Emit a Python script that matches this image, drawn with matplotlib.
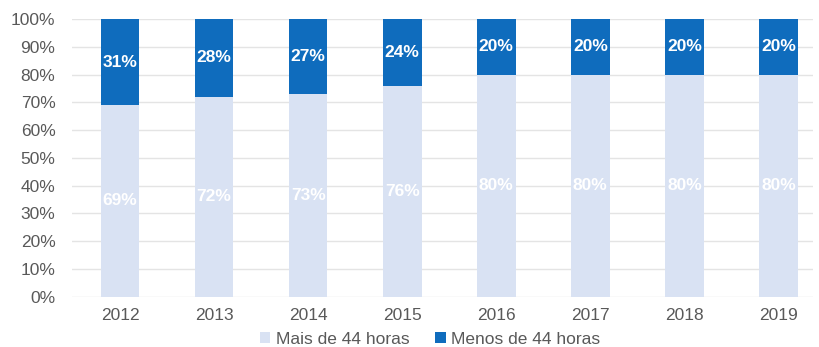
import numpy as np
import matplotlib.pyplot as plt

plt.rcParams['font.family'] = ['Liberation Sans', 'DejaVu Sans']

years = ["2012", "2013", "2014", "2015", "2016", "2017", "2018", "2019"]
mais_44 = [69, 72, 73, 76, 80, 80, 80, 80]
menos_44 = [31, 28, 27, 24, 20, 20, 20, 20]

light = "#D9E2F3"
dark = "#0F6CBD"

fig = plt.figure(figsize=(8.19, 3.47), dpi=100)
ax = fig.add_axes([0.088, 0.145, 0.905, 0.80])

x = np.arange(len(years))
w = 0.41
b1 = ax.bar(x, mais_44, w, color=light, label="Mais de 44 horas", zorder=2)
b2 = ax.bar(x, menos_44, w, bottom=mais_44, color=dark, label="Menos de 44 horas", zorder=2)

# percentage labels centred in each segment
for xi, lo, hi in zip(x, mais_44, menos_44):
    ax.text(xi, lo / 2, f"{lo}%", ha="center", va="center", color="white",
            fontsize=12.5, fontweight="bold", zorder=3)
    ax.text(xi, lo + hi / 2, f"{hi}%", ha="center", va="center", color="white",
            fontsize=12.5, fontweight="bold", zorder=3)

ax.set_ylim(0, 100)
ax.set_xlim(-0.51, 7.37)
ax.set_yticks(range(0, 101, 10))
ax.set_yticklabels([f"{v}%" for v in range(0, 101, 10)])
ax.set_xticks(x)
ax.set_xticklabels(years)
ax.tick_params(axis="both", length=0, labelsize=12.5, colors="#595959")
ax.tick_params(axis="y", pad=12)
ax.tick_params(axis="x", pad=8)
ax.grid(axis="y", color="#E4E4E4", linewidth=1, zorder=0)
for s in ax.spines.values():
    s.set_visible(False)

fig.legend(handles=[b1, b2], loc="center", bbox_to_anchor=(0.525, 0.022),
           ncol=2, frameon=False, fontsize=12.5, handlelength=0.6, handleheight=0.6,
           handletextpad=0.3, columnspacing=1.5, labelcolor="#595959")

fig.savefig("out.png", dpi=100)
